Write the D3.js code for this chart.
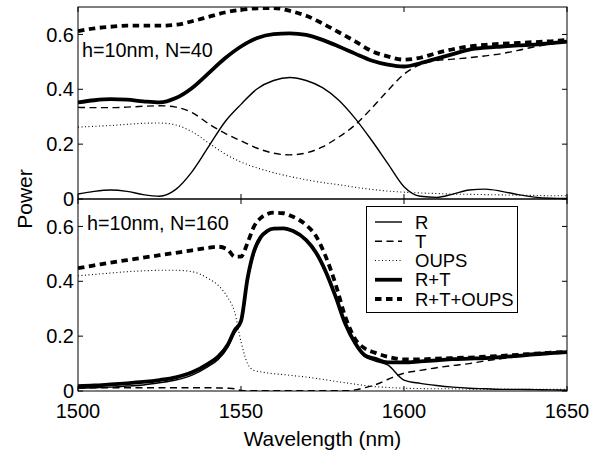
<!DOCTYPE html>
<html lang="en">
<head>
<meta charset="UTF-8">
<title>Power vs wavelength</title>
<script src="https://d3js.org/d3.v7.min.js"></script>
<style>
  body { margin: 0; background: #fff; }
  text { font-family: "Liberation Sans", Arial, sans-serif; fill: #000; }
  .frame { fill: none; stroke: #000; stroke-width: 1; }
  .tick-line { stroke: #000; stroke-width: 1; }
</style>
</head>
<body>
<svg width="606" height="453"></svg>
<script>
// ---- data ----
const xTicks = [1500, 1550, 1600, 1650];
const yTicks = [0, 0.2, 0.4, 0.6];

// top panel: h=10nm, N=40
const waveTop = [1500,1505,1510,1515,1520,1525,1530,1535,1540,1545,1550,1555,1560,1565,1570,1575,
                 1580,1585,1590,1595,1600,1605,1610,1615,1620,1625,1630,1635,1640,1645,1650];
const rTop    = [0.018,0.028,0.033,0.028,0.016,0.01,0.035,0.10,0.19,0.28,0.345,0.402,0.432,0.443,0.432,0.406,
                 0.36,0.294,0.215,0.13,0.045,0.01,0.006,0.018,0.033,0.036,0.028,0.016,0.007,0.003,0.002];
const tTop    = [0.334,0.333,0.333,0.335,0.338,0.340,0.335,0.315,0.275,0.24,0.212,0.185,0.167,0.161,0.168,0.19,
                 0.226,0.27,0.33,0.395,0.455,0.49,0.505,0.51,0.515,0.522,0.53,0.542,0.555,0.565,0.574];
const oupsTop = [0.262,0.265,0.268,0.272,0.276,0.277,0.27,0.245,0.205,0.165,0.135,0.113,0.096,0.082,0.07,0.06,
                 0.052,0.043,0.035,0.029,0.025,0.022,0.02,0.018,0.017,0.016,0.015,0.014,0.013,0.012,0.012];
const rtTop   = [0.352,0.36,0.364,0.362,0.356,0.352,0.368,0.405,0.458,0.512,0.556,0.587,0.601,0.604,0.598,0.58,
                 0.556,0.53,0.505,0.49,0.483,0.495,0.512,0.528,0.545,0.552,0.556,0.56,0.563,0.568,0.574];
const rtoTop  = [0.612,0.622,0.628,0.632,0.632,0.632,0.635,0.648,0.664,0.68,0.69,0.695,0.696,0.686,0.668,0.64,
                 0.608,0.575,0.54,0.52,0.508,0.515,0.532,0.546,0.556,0.562,0.566,0.569,0.572,0.575,0.58];

// bottom panel: h=10nm, N=160
const waveBot = [1500,1505,1510,1515,1520,1525,1530,1535,1540,1543,1546,1548,1550,1552,1554,1556,1558,1560,
                 1563,1566,1570,1573,1576,1579,1582,1585,1588,1591,1595,1600,1605,1610,1615,1620,1625,1630,
                 1635,1640,1645,1650];
const rBot    = [0.01,0.012,0.014,0.018,0.022,0.03,0.04,0.058,0.09,0.115,0.16,0.21,0.25,0.40,0.50,0.555,0.58,0.59,
                 0.592,0.582,0.55,0.50,0.43,0.34,0.24,0.17,0.125,0.11,0.095,0.04,0.028,0.02,0.014,0.01,0.008,0.006,
                 0.006,0.005,0.004,0.003];
const tBot    = [0.012,0.012,0.012,0.012,0.012,0.012,0.012,0.012,0.012,0.011,0.01,0.008,0.002,0.001,0.001,0.001,0.001,0.001,
                 0.001,0.001,0.001,0.001,0.001,0.001,0.001,0.004,0.012,0.022,0.042,0.065,0.075,0.085,0.093,0.1,0.11,0.118,
                 0.125,0.132,0.138,0.142];
const oupsBot = [0.42,0.425,0.43,0.435,0.438,0.44,0.44,0.435,0.41,0.385,0.34,0.29,0.18,0.1,0.075,0.07,0.066,0.063,
                 0.06,0.056,0.051,0.046,0.041,0.035,0.03,0.025,0.02,0.016,0.013,0.01,0.009,0.008,0.008,0.007,0.007,0.007,
                 0.006,0.006,0.006,0.006];
const rtBot   = [0.018,0.02,0.024,0.028,0.033,0.04,0.05,0.068,0.10,0.125,0.17,0.22,0.255,0.41,0.51,0.56,0.583,0.592,
                 0.593,0.583,0.55,0.505,0.435,0.345,0.245,0.175,0.13,0.118,0.104,0.104,0.108,0.112,0.116,0.118,0.12,0.124,
                 0.128,0.134,0.138,0.142];
const rtoBot  = [0.448,0.458,0.468,0.477,0.486,0.495,0.504,0.513,0.522,0.526,0.515,0.49,0.49,0.54,0.60,0.63,0.645,0.65,
                 0.648,0.635,0.605,0.565,0.49,0.39,0.27,0.19,0.155,0.14,0.125,0.115,0.115,0.118,0.12,0.122,0.125,0.128,
                 0.132,0.136,0.14,0.142];

const seriesNames = ["R", "T", "OUPS", "R+T", "R+T+OUPS"];

// ---- styles per series ----
const styles = {
  "R":        { width: 1.4, dash: null },
  "T":        { width: 1.4, dash: "7,4.5" },
  "OUPS":     { width: 1.1, dash: "1,2.5" },
  "R+T":      { width: 3.8, dash: null },
  "R+T+OUPS": { width: 3.8, dash: "6.5,4.5" }
};

const svg = d3.select("svg");
const left = 78, right = 567;

const x = d3.scaleLinear().domain([1500, 1650]).range([left, right]);

const panels = [
  { top: 7,   bottom: 199, wave: waveTop, label: "h=10nm, N=40",  lx: 82, ly: 57,
    series: [rTop, tTop, oupsTop, rtTop, rtoTop] },
  { top: 199, bottom: 391, wave: waveBot, label: "h=10nm, N=160", lx: 87, ly: 230,
    series: [rBot, tBot, oupsBot, rtBot, rtoBot] }
];

panels.forEach(p => {
  const y = d3.scaleLinear().domain([0, 0.7]).range([p.bottom, p.top]);
  const g = svg.append("g");

  const clipId = "clip" + p.top;
  svg.append("clipPath").attr("id", clipId)
    .append("rect").attr("x", left).attr("y", p.top)
    .attr("width", right - left).attr("height", p.bottom - p.top);

  const line = d3.line()
    .x((d, i) => x(p.wave[i]))
    .y(d => y(d))
    .curve(d3.curveMonotoneX);

  g.append("g").attr("clip-path", `url(#${clipId})`)
    .selectAll("path")
    .data(p.series)
    .join("path")
    .attr("d", d => line(d))
    .attr("fill", "none")
    .attr("stroke", "#000")
    .attr("stroke-width", (d, i) => styles[seriesNames[i]].width)
    .attr("stroke-dasharray", (d, i) => styles[seriesNames[i]].dash);

  // frame
  g.append("rect").attr("class", "frame")
    .attr("x", left).attr("y", p.top)
    .attr("width", right - left).attr("height", p.bottom - p.top);

  // inward ticks
  const tl = 5;
  g.selectAll(".xt-b").data(xTicks).join("line").attr("class", "tick-line")
    .attr("x1", d => x(d)).attr("x2", d => x(d))
    .attr("y1", p.bottom).attr("y2", p.bottom - tl);
  g.selectAll(".xt-t").data(xTicks).join("line").attr("class", "tick-line")
    .attr("x1", d => x(d)).attr("x2", d => x(d))
    .attr("y1", p.top).attr("y2", p.top + tl);
  g.selectAll(".yt-l").data(yTicks).join("line").attr("class", "tick-line")
    .attr("x1", left).attr("x2", left + tl)
    .attr("y1", d => y(d)).attr("y2", d => y(d));
  g.selectAll(".yt-r").data(yTicks).join("line").attr("class", "tick-line")
    .attr("x1", right).attr("x2", right - tl)
    .attr("y1", d => y(d)).attr("y2", d => y(d));

  // y tick labels
  g.selectAll(".ylab").data(yTicks).join("text")
    .attr("x", left - 4).attr("y", d => y(d))
    .attr("dy", "0.36em")
    .attr("text-anchor", "end")
    .style("font-size", "20px")
    .text(d => d === 0 ? "0" : d3.format(".1f")(d));

  g.append("text").attr("x", p.lx).attr("y", p.ly)
    .style("font-size", "19.8px").text(p.label);
});

// x tick labels
svg.selectAll(".xlab").data(xTicks).join("text")
  .attr("x", d => x(d)).attr("y", 418)
  .attr("text-anchor", "middle")
  .style("font-size", "20px")
  .text(d => d);

svg.append("text").attr("x", (left + right) / 2).attr("y", 446)
  .attr("text-anchor", "middle").style("font-size", "20.8px")
  .text("Wavelength (nm)");

svg.append("text")
  .attr("transform", "translate(32,199) rotate(-90)")
  .attr("text-anchor", "middle").style("font-size", "21px")
  .text("Power");

// legend
const leg = svg.append("g");
leg.append("rect").attr("x", 366.5).attr("y", 206.5).attr("width", 151).attr("height", 106)
  .attr("fill", "#fff").attr("stroke", "#000").attr("stroke-width", 1);
const rowY = d3.scalePoint().domain(seriesNames).range([222, 299]);
seriesNames.forEach(n => {
  const s = styles[n];
  leg.append("line")
    .attr("x1", 375).attr("x2", 402)
    .attr("y1", rowY(n)).attr("y2", rowY(n))
    .attr("stroke", "#000").attr("stroke-width", s.width)
    .attr("stroke-dasharray", s.dash);
  leg.append("text").attr("x", 415).attr("y", rowY(n)).attr("dy", "0.36em")
    .style("font-size", "18.5px").text(n);
});
</script>
</body>
</html>
